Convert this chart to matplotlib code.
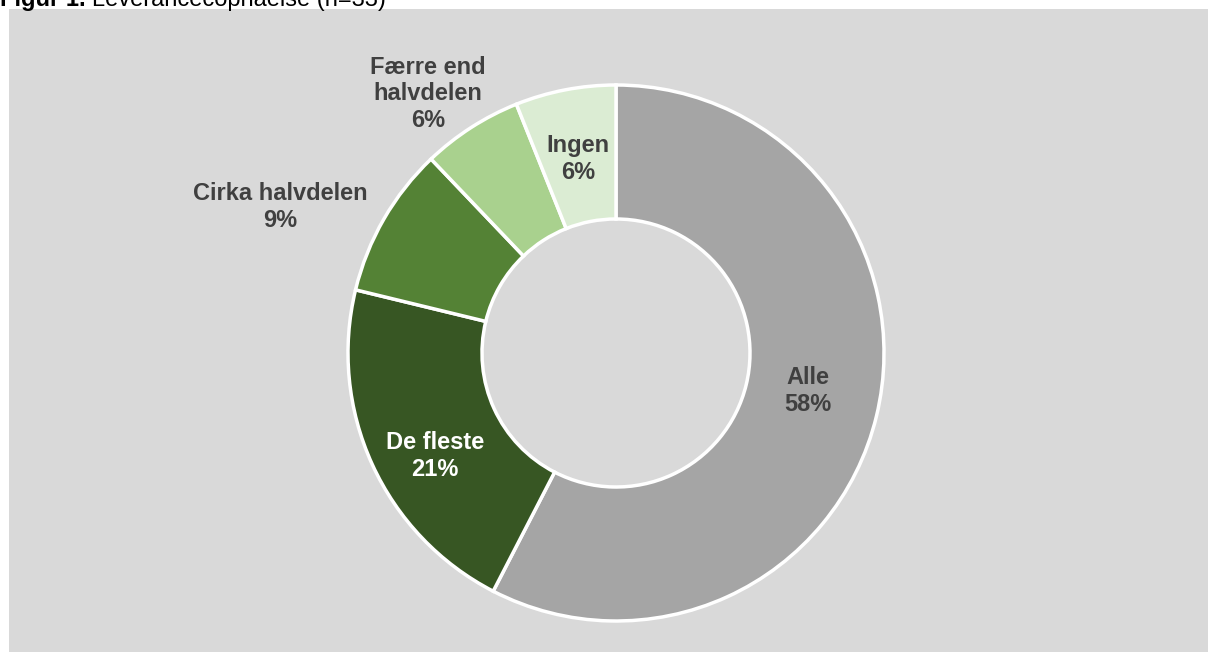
import matplotlib.pyplot as plt
from matplotlib.patches import Rectangle

# data (n=33)
categories = ['Alle', 'De fleste', 'Cirka halvdelen', 'Færre end\nhalvdelen', 'Ingen']
counts = [19, 7, 3, 2, 2]
pct_labels = ['58%', '21%', '9%', '6%', '6%']
colors = ['#a5a5a5', '#375623', '#548235', '#a9d18e', '#dbecd3']

W, H = 1208, 652
fig = plt.figure(figsize=(W / 100, H / 100), dpi=100)
fig.patch.set_facecolor('white')

# grey panel behind the chart
fig.patches.append(Rectangle((9 / W, 0), 1 - 9 / W, (H - 9) / H,
                             transform=fig.transFigure, facecolor='#d9d9d9',
                             edgecolor='none', zorder=-5))

# title (clipped at the top like the original)
fig.text(0.0, 1 - 6 / H, 'Figur 1.', fontsize=17, fontweight='bold',
         family='Liberation Sans', va='baseline', ha='left')
fig.text(92 / W, 1 - 6 / H, 'Leverancecophaelse (n=33)', fontsize=17,
         family='Liberation Sans', va='baseline', ha='left')

cx, cy, r = 616, 353, 268
ax = fig.add_axes([(cx - r) / W, (H - cy - r) / H, 2 * r / W, 2 * r / H])
ax.set_facecolor('none')
ax.pie(counts, colors=colors, startangle=90, counterclock=False, radius=1,
       wedgeprops=dict(width=0.5, edgecolor='white', linewidth=2.5))
ax.set_xlim(-1, 1)
ax.set_ylim(-1, 1)
ax.set_aspect('equal')
ax.axis('off')

# label positions in pixels
label_px = [(808, 391), (435, 456), (280, 207), (428, 94), (578, 159)]
text_colors = ['#404040', 'white', '#404040', '#404040', '#404040']
for cat, pct, (px, py), tc in zip(categories, pct_labels, label_px, text_colors):
    ax.text((px - cx) / r, (cy - py) / r, cat + '\n' + pct, ha='center', va='center',
            fontsize=17, fontweight='bold', color=tc, family='Liberation Sans',
            linespacing=1.2, clip_on=False)

fig.savefig('out.png', dpi=100, facecolor=fig.get_facecolor())
